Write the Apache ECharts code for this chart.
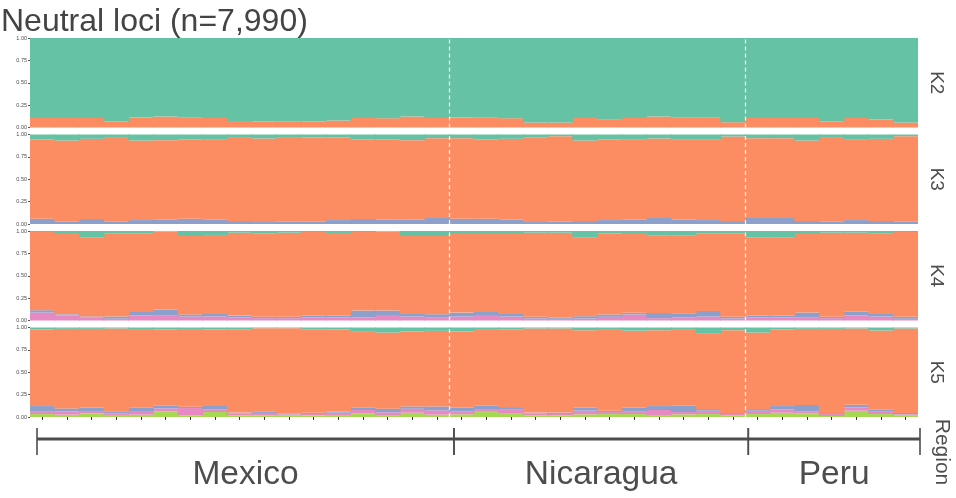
<!DOCTYPE html>
<html><head><meta charset="utf-8">
<script src="https://cdn.jsdelivr.net/npm/echarts@6/dist/echarts.min.js"></script>
<style>html,body{margin:0;padding:0;background:#fff}#c{width:956px;height:498px}</style>
</head><body><div id="c"></div>
<script>
// ---------- data ----------
const regions = ['Mexico', 'Nicaragua', 'Peru'];
const regionSizes = [17, 12, 7];
const panels = ['K2', 'K3', 'K4', 'K5'];
const yTicks = [0, 0.25, 0.5, 0.75, 1];

// K2: cluster 2 (orange, bottom); cluster 1 (teal) is the remainder
const k2_c2 = [0.107,0.107,0.107,0.067,0.111,0.122,0.115,0.107,0.074,0.067,0.063,0.067,0.078,0.107,0.104,0.122,0.107,
               0.111,0.115,0.104,0.056,0.056,0.107,0.093,0.107,0.122,0.115,0.115,0.059,
               0.107,0.107,0.107,0.067,0.107,0.089,0.056];
// K3
const k3_c1 = [0.056,0.067,0.048,0.037,0.067,0.063,0.056,0.059,0.037,0.044,0.037,0.035,0.035,0.056,0.056,0.063,0.041,
               0.041,0.056,0.048,0.030,0.019,0.067,0.056,0.059,0.044,0.059,0.059,0.022,
               0.041,0.041,0.067,0.037,0.059,0.048,0.019];
const k3_c3 = [0.059,0.030,0.056,0.030,0.044,0.048,0.059,0.048,0.033,0.022,0.030,0.030,0.044,0.056,0.048,0.048,0.067,
               0.059,0.059,0.052,0.022,0.030,0.033,0.044,0.048,0.067,0.052,0.044,0.033,
               0.067,0.067,0.033,0.026,0.044,0.033,0.030];
// K4
const k4_c1 = [0.011,0.033,0.070,0.026,0.026,0.007,0.056,0.044,0.019,0.030,0.019,0.011,0.022,0.011,0.007,0.056,0.056,
               0.033,0.033,0.033,0.019,0.019,0.074,0.030,0.033,0.048,0.048,0.026,0.026,
               0.070,0.070,0.033,0.019,0.019,0.026,0.011];
const k4_c3 = [0.026,0.013,0.011,0.024,0.041,0.063,0.024,0.028,0.020,0.015,0.015,0.019,0.019,0.078,0.059,0.030,0.033,
               0.044,0.044,0.030,0.019,0.011,0.026,0.026,0.019,0.059,0.048,0.063,0.019,
               0.019,0.019,0.052,0.015,0.041,0.030,0.022];
const k4_c4 = [0.089,0.056,0.035,0.020,0.055,0.060,0.044,0.046,0.035,0.026,0.026,0.033,0.033,0.033,0.052,0.044,0.037,
               0.044,0.052,0.044,0.022,0.019,0.022,0.041,0.067,0.026,0.033,0.044,0.022,
               0.033,0.033,0.037,0.026,0.056,0.044,0.019];
// K5
const k5_c1 = [0.022,0.015,0.015,0.011,0.026,0.022,0.026,0.022,0.019,0.007,0.007,0.019,0.022,0.048,0.056,0.044,0.037,
               0.044,0.026,0.019,0.011,0.011,0.030,0.026,0.035,0.030,0.026,0.070,0.030,
               0.056,0.022,0.015,0.015,0.011,0.033,0.011];
const k5_c3 = [0.056,0.033,0.041,0.019,0.037,0.030,0.015,0.037,0.011,0.015,0.011,0.013,0.015,0.026,0.041,0.026,0.044,
               0.048,0.037,0.030,0.011,0.015,0.037,0.015,0.044,0.044,0.070,0.019,0.011,
               0.019,0.037,0.074,0.011,0.030,0.015,0.015];
const k5_c4 = [0.033,0.037,0.026,0.019,0.041,0.033,0.081,0.030,0.019,0.026,0.015,0.017,0.026,0.037,0.030,0.044,0.048,
               0.030,0.022,0.037,0.019,0.019,0.041,0.022,0.026,0.056,0.026,0.037,0.019,
               0.037,0.037,0.019,0.022,0.037,0.033,0.015];
const k5_c5 = [0.033,0.026,0.041,0.022,0.026,0.063,0.019,0.056,0.019,0.019,0.015,0.017,0.022,0.041,0.022,0.048,0.026,
               0.030,0.067,0.044,0.019,0.015,0.030,0.033,0.033,0.022,0.030,0.033,0.015,
               0.033,0.048,0.041,0.011,0.070,0.033,0.015];

// ---------- build ----------
const COL = {c1:'#66C2A5', c2:'#FC8D62', c3:'#8DA0CB', c4:'#E78AC3', c5:'#A6D854'};
const FONT = "'Liberation Sans', Arial, Helvetica, sans-serif";
const TXT = '#4d4d4d';

const samples = [];
regions.forEach((r, ri) => { for (let i = 0; i < regionSizes[ri]; i++) samples.push(r + '_' + (i + 1)); });
const N = samples.length;
const rem = (...arrs) => samples.map((_, i) => +(1 - arrs.reduce((s, a) => s + a[i], 0)).toFixed(4));

// bottom -> top stacking per panel
const panelLayers = [
  [['c2', k2_c2], ['c1', rem(k2_c2)]],
  [['c3', k3_c3], ['c2', rem(k3_c3, k3_c1)], ['c1', k3_c1]],
  [['c4', k4_c4], ['c3', k4_c3], ['c2', rem(k4_c4, k4_c3, k4_c1)], ['c1', k4_c1]],
  [['c5', k5_c5], ['c4', k5_c4], ['c3', k5_c3], ['c2', rem(k5_c5, k5_c4, k5_c3, k5_c1)], ['c1', k5_c1]]
];

// region boundaries (cumulative sample counts)
const bounds = [];
let acc = 0;
regionSizes.forEach((s, i) => { acc += s; if (i < regionSizes.length - 1) bounds.push(acc); });

const gridTops = [38, 134.5, 231, 327.5];
const gridH = 89.5;
const gridLeft = 30, gridRight = 38, W = 956;
const grids = gridTops.map(t => ({left: gridLeft, right: gridRight, top: t, height: gridH}));
grids.push({left: 37, right: 36, top: 419, height: 40});
// bars slightly wider than their band so neighbouring bars leave no hairline seams
const barW = (W - gridLeft - gridRight) / N + 0.9;

const xAxes = panels.map((p, i) => ({
  type: 'category', gridIndex: i, data: samples, boundaryGap: true,
  axisLine: {show: false}, axisLabel: {show: false},
  axisTick: {show: i === panels.length - 1, alignWithLabel: true, interval: 0, length: 3,
             lineStyle: {color: '#333', width: 1}},
  splitLine: {show: false}
}));
xAxes.push({type: 'value', gridIndex: 4, min: 0, max: N, show: false});
// hidden continuous axes (one per panel) for region separators
panels.forEach((p, i) => xAxes.push({type: 'value', gridIndex: i, min: 0, max: N, show: false}));

const yAxes = panels.map((p, i) => ({
  type: 'value', gridIndex: i, min: 0, max: 1, interval: 0.25,
  axisLine: {show: false}, splitLine: {show: false},
  axisTick: {show: true, length: 2, lineStyle: {color: '#555', width: 1}},
  axisLabel: {fontSize: 5.5, color: TXT, margin: 3, fontFamily: FONT,
              customValues: yTicks, formatter: v => v.toFixed(2)}
}));
yAxes.push({type: 'value', gridIndex: 4, min: -1, max: 1, show: false});

const series = [];
panelLayers.forEach((layers, pi) => {
  layers.forEach(([c, data]) => {
    series.push({
      type: 'bar', xAxisIndex: pi, yAxisIndex: pi, stack: 'p' + pi,
      data: data, barWidth: barW,
      itemStyle: {color: COL[c]},
      silent: true, animation: false
    });
  });
  series.push({
    type: 'line', xAxisIndex: 5 + pi, yAxisIndex: pi, data: [], silent: true, animation: false,
    markLine: {
      silent: true, symbol: ['none', 'none'], animation: false, z: 10,
      label: {show: false},
      lineStyle: {color: '#ffffff', type: [4, 3], width: 1.3, opacity: 0.85},
      data: bounds.map(b => ({xAxis: b}))
    }
  });
});

// region bracket below
let st = 0;
const regionData = regions.map((r, i) => { const d = [st, st + regionSizes[i], r]; st += regionSizes[i]; return d; });
series.push({
  type: 'custom', xAxisIndex: 4, yAxisIndex: 4, silent: true, animation: false,
  data: regionData,
  renderItem: (params, api) => {
    const a = api.coord([api.value(0), 0]);
    const b = api.coord([api.value(1), 0]);
    const name = regionData[params.dataIndex][2];
    return {
      type: 'group',
      children: [
        {type: 'line', shape: {x1: a[0], y1: a[1], x2: b[0], y2: b[1]}, style: {stroke: TXT, lineWidth: 3}},
        {type: 'line', shape: {x1: a[0], y1: a[1] - 11, x2: a[0], y2: a[1] + 16}, style: {stroke: TXT, lineWidth: 1.6}},
        {type: 'line', shape: {x1: b[0], y1: b[1] - 11, x2: b[0], y2: b[1] + 16}, style: {stroke: TXT, lineWidth: 1.6}},
        {type: 'text', x: (a[0] + b[0]) / 2, y: a[1] + 36,
         style: {text: name, fontSize: 33.5, fill: TXT, fontFamily: FONT, align: 'center', verticalAlign: 'middle'}}
      ]
    };
  }
});

const graphics = panels.map((p, i) => ({
  type: 'text', x: 936, y: gridTops[i] + gridH / 2, rotation: -Math.PI / 2,
  style: {text: p, fontSize: 19, fill: TXT, fontFamily: FONT, align: 'center', verticalAlign: 'middle'}
}));
graphics.push({
  type: 'text', x: 942, y: 452, rotation: -Math.PI / 2,
  style: {text: 'Region', fontSize: 21, fill: TXT, fontFamily: FONT, align: 'center', verticalAlign: 'middle'}
});

const chart = echarts.init(document.getElementById('c'), null, {renderer: 'canvas'});
chart.setOption({
  animation: false,
  backgroundColor: '#ffffff',
  title: {text: 'Neutral loci (n=7,990)', left: 1, top: 6, padding: 0,
          textStyle: {fontSize: 32, fontWeight: 'normal', color: '#444', fontFamily: FONT}},
  grid: grids,
  xAxis: xAxes,
  yAxis: yAxes,
  series: series,
  graphic: graphics
});
</script></body></html>
